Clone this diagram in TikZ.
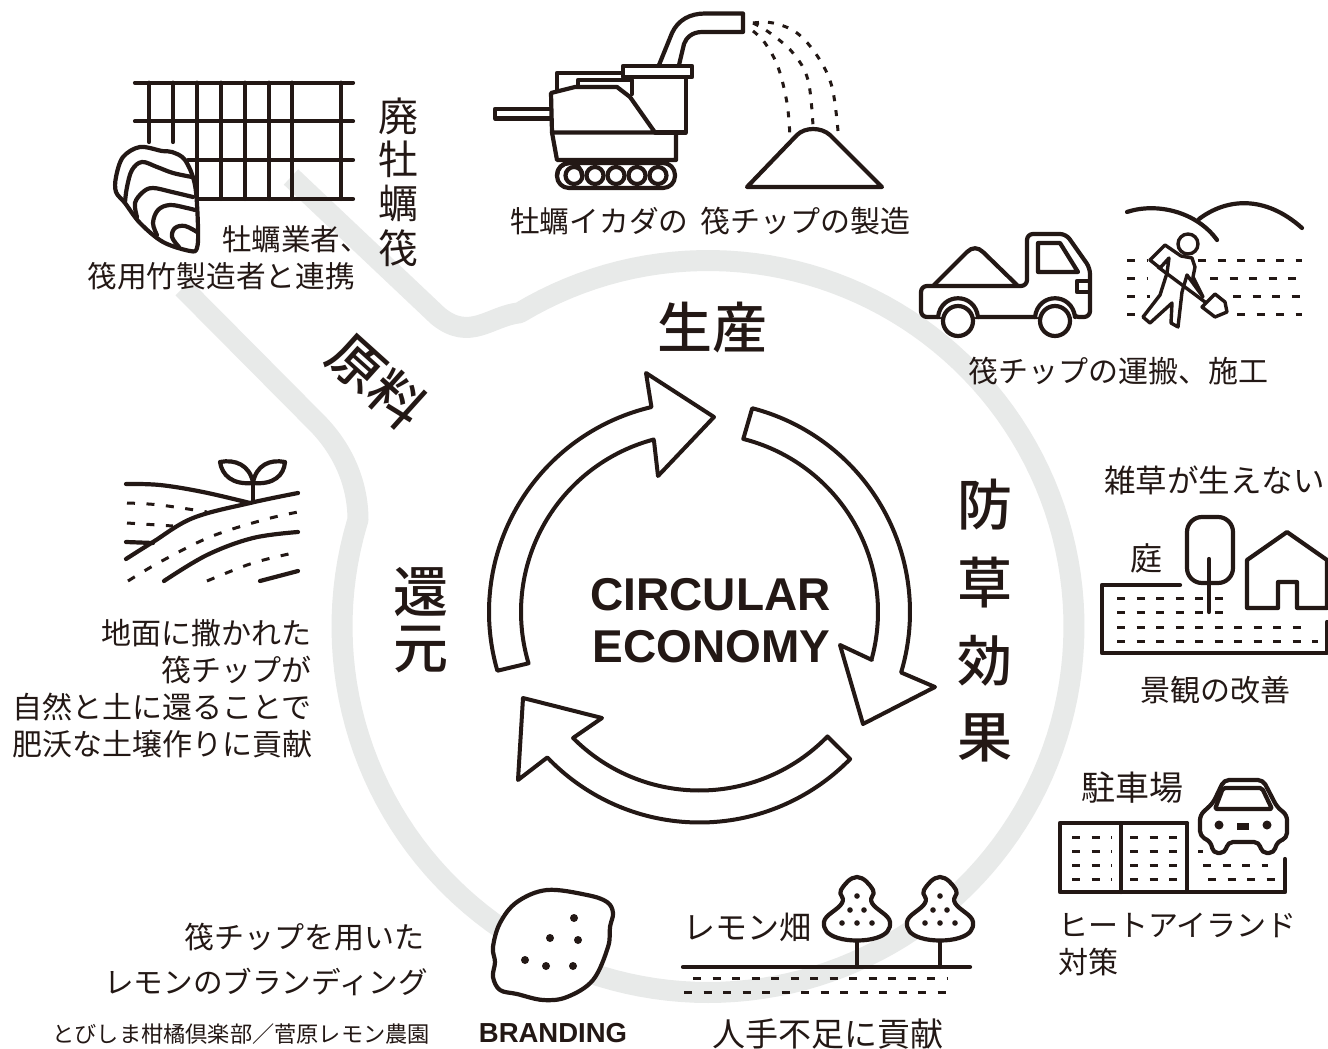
\documentclass[tikz,border=0pt]{standalone}
\usepackage{fontspec}
\setmainfont{Liberation Sans}
\newfontfamily\jp{Noto Sans CJK JP}
\newfontfamily\jpm{Noto Sans CJK JP Medium}
\definecolor{ink}{HTML}{231815}
\definecolor{track}{HTML}{E8EAE9}
% One line of Japanese text: name, x, vertical centre y, anchor, size, family, text
\newcommand\jtext[7]{\node[text=ink,inner sep=0pt,anchor=#4] (#1) at (#2,{#3+.38*#5}) {\fontsize{#5pt}{#5pt}#6\selectfont #7};}
\tikzset{
  ln/.style={draw=ink,line width=4.2pt,line cap=round,line join=round},
  thin ln/.style={draw=ink,line width=3.4pt,line cap=round,line join=round},
  dots/.style={draw=ink,line width=3pt,dash pattern=on 8pt off 11.5pt},
  arrowloop/.style={draw=ink,line width=4pt,line join=round,fill=white},
}
\def\Cx{699.5}\def\Cy{612}\def\Ro{210.5}\def\Ri{178.5}
\begin{document}
\begin{tikzpicture}[x=1pt,y=-1pt]
\useasboundingbox (0,0) rectangle (1328,1049);
\fill[white] (0,0) rectangle (1328,1049);

% Grey loop with its two arms running up to the raft
\draw[track,line width=21pt,line join=round]
  (183,288) -- (318,424) .. controls (345,452) and (358,486) .. (358,520)
  -- plot[domain=196.5:-121,samples=150] ({708+366*cos(\x)},{626.5+366*sin(\x)})
  .. controls (490,316) and (470,342) .. (438,316) -- (291,177);

% Raft grid
\foreach \yy/\xs in {82.7/135,121.3/135,160/188,199/198}
  \draw[ln] (\xs,\yy) -- (353,\yy);
\foreach \xx in {197,221,245,269,292,341}
  \draw[ln] (\xx,82.7) -- (\xx,199);
\foreach \xx in {149,173}
  \draw[ln] (\xx,82.7) -- (\xx,142);

% Oyster shell
\draw[ln,fill=white] plot[smooth cycle,tension=.55] coordinates {(140,147)(162,151)(172,152)(185,160)(195,185)(198,227)(197,248)(190,251)(163,242)(140,223)(125,203)(116,192)(116,177)(123,157)};
\draw[ln] plot[smooth,tension=.6] coordinates {(125,202)(127,187)(132,170)(142,162)(157,167)(173,173)(192,177)};
\draw[ln] plot[smooth,tension=.6] coordinates {(137,217)(135,203)(143,192)(153,188)(172,192)(193,197)};
\draw[ln] plot[smooth,tension=.6] coordinates {(157,235)(153,223)(158,210)(170,205)(187,208)(195,210)};
\draw[ln] plot[smooth,tension=.6] coordinates {(179,247)(172,237)(175,228)(185,226)(197,232)};

% Chipper
\draw[ln,fill=white] (495,109) rectangle (552,118.5);
\draw[ln] (557,90) -- (557,73) -- (623,73);
\draw[ln] (578,85) -- (578,80) -- (632,80) -- (632,94);
\draw[ln,fill=white] (659,65) -- (672,33) .. controls (678,20) and (690,13.5) .. (705,13.5) -- (743,13.5) -- (743,32) -- (702,32) .. controls (692,32) and (686,38) .. (684,44) -- (679,65);
\draw[ln] (632,77) -- (686,77) -- (686,132.5) -- (655,132.5);
\draw[ln,fill=white] (623,66) rectangle (692,77);
\draw[ln,fill=white] (551,93) -- (575,87) -- (617,87) -- (630,97) -- (655,132.5) -- (552,132.5) -- cycle;
\draw[ln] (552,132.5) -- (557,160) -- (676,160) -- (676,133);
\draw[ln] (557,175.5) arc[start angle=-180,end angle=-360,radius=12.5pt] ;
\draw[ln,rounded corners=12pt] (557,163) rectangle (675,188);
\foreach \wx in {574,595,616,637,658}
  \draw[ln] (\wx,175.5) circle (8.5pt);
\draw[dots,dash pattern=on 6pt off 9pt] plot[smooth,tension=.6] coordinates {(753,23)(773,23)(797,33)(818,57)(832,87)(838,131)};
\draw[dots,dash pattern=on 6pt off 9pt] plot[smooth,tension=.6] coordinates {(753,23)(770,33)(793,53)(808,80)(813,126)};
\draw[dots,dash pattern=on 6pt off 9pt] plot[smooth,tension=.6] coordinates {(753,31)(765,43)(778,67)(787,103)(790,137)};
\draw[ln] (747,187) -- (797,135) .. controls (805,127) and (821,127) .. (830,135) -- (882,187) -- cycle;

% Truck
\draw[ln,fill=white,rounded corners=6pt] (921,286) -- (1027,286) -- (1027,234) -- (1066,234) -- (1090,268) -- (1090,317) -- (1073,317) -- (1073,317) -- (1037,317) -- (978,317) -- (938,317) -- (921,317) -- cycle;
\draw[white,line width=8pt] (945,317) -- (972,317) (1042,317) -- (1068,317);
\draw[ln,fill=white] (978,317) .. controls (975,292) and (941,292) .. (938,317);
\draw[ln,fill=white] (1075,317) .. controls (1072,292) and (1038,292) .. (1035,317);
\draw[ln] (1038,243) -- (1060,243) -- (1078,272) -- (1038,272) -- cycle;
\draw[ln] (1089,281) -- (1077,281) -- (1077,292) -- (1089,292);
\draw[ln,fill=white] (958,321) circle (15pt) (1055,321) circle (15pt);
\draw[ln] (934,285) -- (967,252) .. controls (972,247) and (978,247) .. (983,252) -- (1017,285);

% Worker spreading chips
\draw[ln] (1127,212) .. controls (1157,202) and (1197,212) .. (1217,240);
\draw[ln] (1199,219) .. controls (1227,198) and (1265,195) .. (1302,228);
\foreach \ya/\xa/\xb/\xc in {260/1127/1148/1198,278/1127/1148/1210,296/1127/1150/1233,314/1127/1138/1237}
  \draw[dots] (\xa,\ya) -- (\xb,\ya) (\xc,\ya) -- (1302,\ya);
\draw[thin ln] (1188,244) circle (10pt);
\draw[thin ln,fill=white] (1150,260) -- (1165,245) -- (1181,256) -- (1192,258) -- (1195,267) -- (1193,277) -- (1203,297) -- (1187,275) -- (1182,292) -- (1178,327) -- (1171,323) -- (1172,303) -- (1150,323) -- (1143,317) -- (1160,295) -- (1167,273) -- (1169,258) -- (1160,268) -- cycle;
\draw[thin ln] (1158,267) -- (1205,302);
\draw[thin ln,fill=white] (1202,307) -- (1215,294) -- (1225,302) -- (1227,312) -- (1215,317) -- cycle;

% Garden and house
\draw[ln] (1180,585) -- (1102,585) -- (1102,653) -- (1327,653) -- (1327,622);
\draw[ln,rounded corners=15pt] (1187,517) rectangle (1233,583);
\draw[ln] (1209,559) -- (1209,612);
\draw[ln] (1247,608) -- (1247,560) -- (1287,532) -- (1327,560) -- (1327,608) -- (1297,608) -- (1297,582) -- (1278,582) -- (1278,608) -- cycle;
\foreach \ya/\xb in {598/1227,612/1227,627/1308,641/1318}
  \draw[dots] (1117,\ya) -- (\xb,\ya);

% Car park and car
\draw[ln] (1285,859) -- (1285,892) -- (1187,892) (1187,823) -- (1060,823) -- (1060,892) -- (1187,892) -- (1187,823) (1121,823) -- (1121,892);
\foreach \ya in {837,851,865,879}{
  \draw[dots] (1072,\ya) -- (1112,\ya);
  \draw[dots] (1130,\ya) -- (1177,\ya);
}
\draw[dots] (1198,851) -- (1203,851);
\draw[dots] (1203,865) -- (1268,865);
\draw[dots] (1208,879) -- (1277,879);
\draw[ln,fill=white,rounded corners=5pt] (1224,780) -- (1263,780) -- (1277,807) -- (1287,815) -- (1287,838) -- (1277,842) -- (1274,853) -- (1262,853) -- (1259,842) -- (1228,842) -- (1225,853) -- (1213,853) -- (1211,842) -- (1200,836) -- (1200,815) -- (1213,803) -- cycle;
\draw[ln,rounded corners=2pt] (1223,788) -- (1262,788) -- (1272,809) -- (1215,809) -- cycle;
\fill[ink] (1219,825) circle (4.5pt) (1267,825) circle (4.5pt);
\fill[ink] (1237,823) rectangle (1249,829.5);

% Lemon field
\draw[ln] (683,967) -- (970,967);
\draw[dots] (693,978) -- (947,978);
\draw[dots] (684,992) -- (953,992);
\foreach \tx in {857,940}{
  \draw[ln] (\tx,938) -- (\tx,967);
  \begin{scope}[xshift=\tx pt]
    \draw[ln,fill=white] plot[smooth cycle,tension=.75] coordinates {(0,877)(16,890)(15,903)(33,922)(19,938)(-19,938)(-33,922)(-15,903)(-16,890)};
    \fill[ink] (0,896) circle (2.8pt) (-7,910) circle (2.8pt) (7,910) circle (2.8pt) (-15,923) circle (2.8pt) (0,923) circle (2.8pt) (15,923) circle (2.8pt);
  \end{scope}
}

% Lemon
\draw[ln,fill=white] plot[smooth cycle,tension=.6] coordinates {(517,902)(547,890)(587,895)(607,902)(613,913)(610,927)(608,947)(593,980)(567,997)(543,1000)(517,994)(500,990)(493,977)(495,962)(493,947)(500,923)};
\fill[ink] (574,918) circle (4pt) (550,938) circle (4pt) (578,940) circle (4pt) (525,960) circle (4pt) (546,966) circle (4pt) (573,966) circle (4pt);

% Sprout on layered soil
\draw[ln] plot[smooth,tension=.6] coordinates {(126,559)(153,542)(193,518)(250,503)(298,493)};
\draw[ln] plot[smooth,tension=.6] coordinates {(126,484)(160,485)(203,492)(250,503)};
\draw[ln] (126,542) -- (153,543);
\draw[ln] plot[smooth,tension=.6] coordinates {(164,581)(207,555)(253,538)(298,532)};
\draw[ln] (260,581) -- (298,571);
\draw[dots] plot[smooth,tension=.6] coordinates {(127,503)(160,505)(207,512)};
\draw[dots] (127,523) -- (173,526);
\draw[dots] plot[smooth,tension=.6] coordinates {(128,581)(160,562)(210,537)(263,520)(298,512)};
\draw[dots] plot[smooth,tension=.6] coordinates {(207,581)(253,563)(298,552)};
\draw[ln] (253,502) -- (253,483);
\draw[ln] (253,483) .. controls (232,485) and (222,475) .. (220,462) .. controls (235,459) and (250,465) .. (253,483);
\draw[ln] (253,483) .. controls (274,485) and (284,475) .. (285,462) .. controls (270,459) and (256,465) .. (253,483);

% The three arrows of the cycle
\draw[arrowloop] plot[domain=163.8:256.8,samples=70] ({\Cx+\Ro*cos(\x)},{\Cy+\Ro*sin(\x)})
  -- (646,373) -- (714,417) -- (658,476) -- (654,441)
  -- plot[domain=255.1:163.3,samples=70] ({\Cx+\Ri*cos(\x)},{\Cy+\Ri*sin(\x)}) -- cycle;
\draw[arrowloop] plot[domain=-75.5:16.7,samples=70] ({\Cx+\Ro*cos(\x)},{\Cy+\Ro*sin(\x)})
  -- (935,687) -- (863,724) -- (840,645) -- (872,660)
  -- plot[domain=15.5:-75.8,samples=70] ({\Cx+\Ri*cos(\x)},{\Cy+\Ri*sin(\x)}) -- cycle;
\draw[arrowloop] plot[domain=44.3:136.3,samples=70] ({\Cx+\Ro*cos(\x)},{\Cy+\Ro*sin(\x)})
  -- (518,780) -- (523,698) -- (602,718) -- (573,738)
  -- plot[domain=135:44.2,samples=70] ({\Cx+\Ri*cos(\x)},{\Cy+\Ri*sin(\x)}) -- cycle;

% Centre title
\node[text=ink,inner sep=0pt,anchor=base,font=\fontsize{46pt}{46pt}\bfseries\selectfont] (circular) at (710.5,610) {CIRCULAR};
\node[text=ink,inner sep=0pt,anchor=base,font=\fontsize{46pt}{46pt}\bfseries\selectfont] (economy) at (711.5,662) {ECONOMY};

% Section headings
\jtext{seisan}{712}{328}{base}{55}{\jpm}{生産}
\jtext{bo}{985}{505}{base}{55}{\jpm}{防}
\jtext{so}{985}{583}{base}{55}{\jpm}{草}
\jtext{ko}{985}{661}{base}{55}{\jpm}{効}
\jtext{ka}{985}{737}{base}{55}{\jpm}{果}
\jtext{kan}{421}{592}{base}{55}{\jpm}{還}
\jtext{gen}{421}{648}{base}{55}{\jpm}{元}
\node[text=ink,inner sep=0pt,rotate=-42] (genryo) at (377,381) {\fontsize{54pt}{54pt}\jpm\selectfont 原料};

% Captions
\jtext{hai}{398}{116}{base}{40}{\jp}{廃}
\jtext{bo2}{398}{159}{base}{40}{\jp}{牡}
\jtext{rei}{398}{203}{base}{40}{\jp}{蠣}
\jtext{ikada}{398}{248}{base}{40}{\jp}{筏}
\jtext{cap1a}{222}{239}{base west}{29.5}{\jp}{牡蠣業者、}
\jtext{cap1b}{355}{276}{base east}{29.7}{\jp}{筏用竹製造者と連携}
\jtext{cap2a}{510}{221}{base west}{29.7}{\jp}{牡蠣イカダの}
\jtext{cap2b}{700}{221}{base west}{30}{\jp}{筏チップの製造}
\jtext{cap3}{968}{371}{base west}{30}{\jp}{筏チップの運搬、施工}
\jtext{cap4}{1104}{481}{base west}{31.5}{\jp}{雑草が生えない}
\jtext{niwa}{1146}{558}{base}{32}{\jp}{庭}
\jtext{cap5}{1215}{690}{base}{30}{\jp}{景観の改善}
\jtext{chusha}{1132}{788}{base}{34}{\jp}{駐車場}
\jtext{cap6a}{1058}{925}{base west}{30}{\jp}{ヒートアイランド}
\jtext{cap6b}{1058}{962}{base west}{30}{\jp}{対策}
\jtext{cap7}{828}{1034}{base}{33}{\jp}{人手不足に貢献}
\jtext{lemonf}{683}{927}{base west}{32}{\jp}{レモン畑}
\jtext{cap8a}{425}{937}{base east}{30}{\jp}{筏チップを用いた}
\jtext{cap8b}{428}{982}{base east}{29.6}{\jp}{レモンのブランディング}
\jtext{cap8c}{430}{1034}{base east}{22.2}{\jp}{とびしま柑橘倶楽部／菅原レモン農園}
\node[text=ink,inner sep=0pt,anchor=base,font=\fontsize{27.5pt}{27.5pt}\bfseries\selectfont] (branding) at (553,1042) {BRANDING};
\jtext{cap9a}{312}{633}{base east}{30}{\jp}{地面に撒かれた}
\jtext{cap9b}{312}{670}{base east}{30}{\jp}{筏チップが}
\jtext{cap9c}{312}{707}{base east}{30}{\jp}{自然と土に還ることで}
\jtext{cap9d}{313}{744}{base east}{30}{\jp}{肥沃な土壌作りに貢献}
\end{tikzpicture}
\end{document}
